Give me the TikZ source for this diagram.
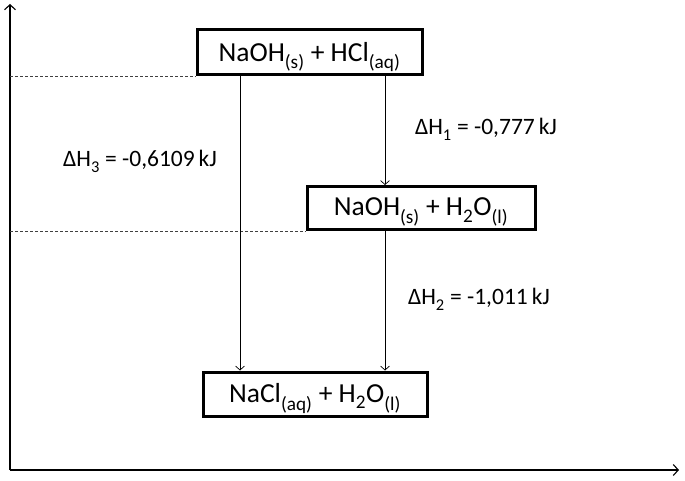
\documentclass[tikz,border=0pt]{standalone}
\usepackage{fontspec}
\setmainfont{Carlito}
\usetikzlibrary{arrows.meta}
\newcommand{\sbs}[1]{\smash{\raisebox{-0.08em}{\textsubscript{#1}}}}
\tikzset{
  x=1pt, y=-1pt,
  statebox/.style={draw, line width=3pt, inner sep=0pt, font=\fontsize{27.5}{30}\selectfont},
  lab/.style={font=\fontsize{23.5}{26}\selectfont, inner sep=0pt},
  arr/.style={line width=0.7pt, -{Straight Barb[length=4pt,width=9pt]}},
  axis/.style={line width=1.1pt, -{Straight Barb[length=5pt,width=11pt]}},
  guide/.style={line width=0.7pt, dash pattern=on 3pt off 2pt, black!75}
}
\begin{document}
\begin{tikzpicture}
\useasboundingbox (0,0) rectangle (685,481);
% axes
\coordinate (o) at (10,470);
\coordinate (ytop) at (10,4);
\coordinate (xend) at (679,470);
\draw[axis] (o) -- (ytop);
\draw[axis] (o) -- (xend);
% boxes
\node[statebox, minimum width=225pt, minimum height=45pt, text depth=2pt] (b1) at (309.5,52.5) {NaOH\sbs{(s)} + HCl\sbs{(aq)}};
\node[statebox, minimum width=228pt, minimum height=43pt, text depth=2pt] (b2) at (421,208) {NaOH\sbs{(s)} + H\sbs{2}O\sbs{(l)}};
\node[statebox, minimum width=224pt, minimum height=44pt, text depth=2pt] (b3) at (315,394) {NaCl\sbs{(aq)} + H\sbs{2}O\sbs{(l)}};
% guide lines
\coordinate (xa) at (10,0);
\draw[guide] (b1.south west -| xa) -- (b1.south west);
\draw[guide] (b2.south west -| xa) -- (b2.south west);
% arrows
\coordinate (cl) at (240,0);
\coordinate (cr) at (385,0);
\draw[arr] (b1.south -| cl) -- (b3.north -| cl);
\draw[arr] (b1.south -| cr) -- (b2.north -| cr);
\draw[arr] (b2.south -| cr) -- (b3.north -| cr);
% labels
\node[lab] (l3) at (140,160) {ΔH\sbs{3} = -0,6109\,kJ};
\node[lab] (l1) at (486,128) {ΔH\sbs{1} = -0,777\,kJ};
\node[lab] (l2) at (479,298) {ΔH\sbs{2} = -1,011\,kJ};
\end{tikzpicture}
\end{document}
